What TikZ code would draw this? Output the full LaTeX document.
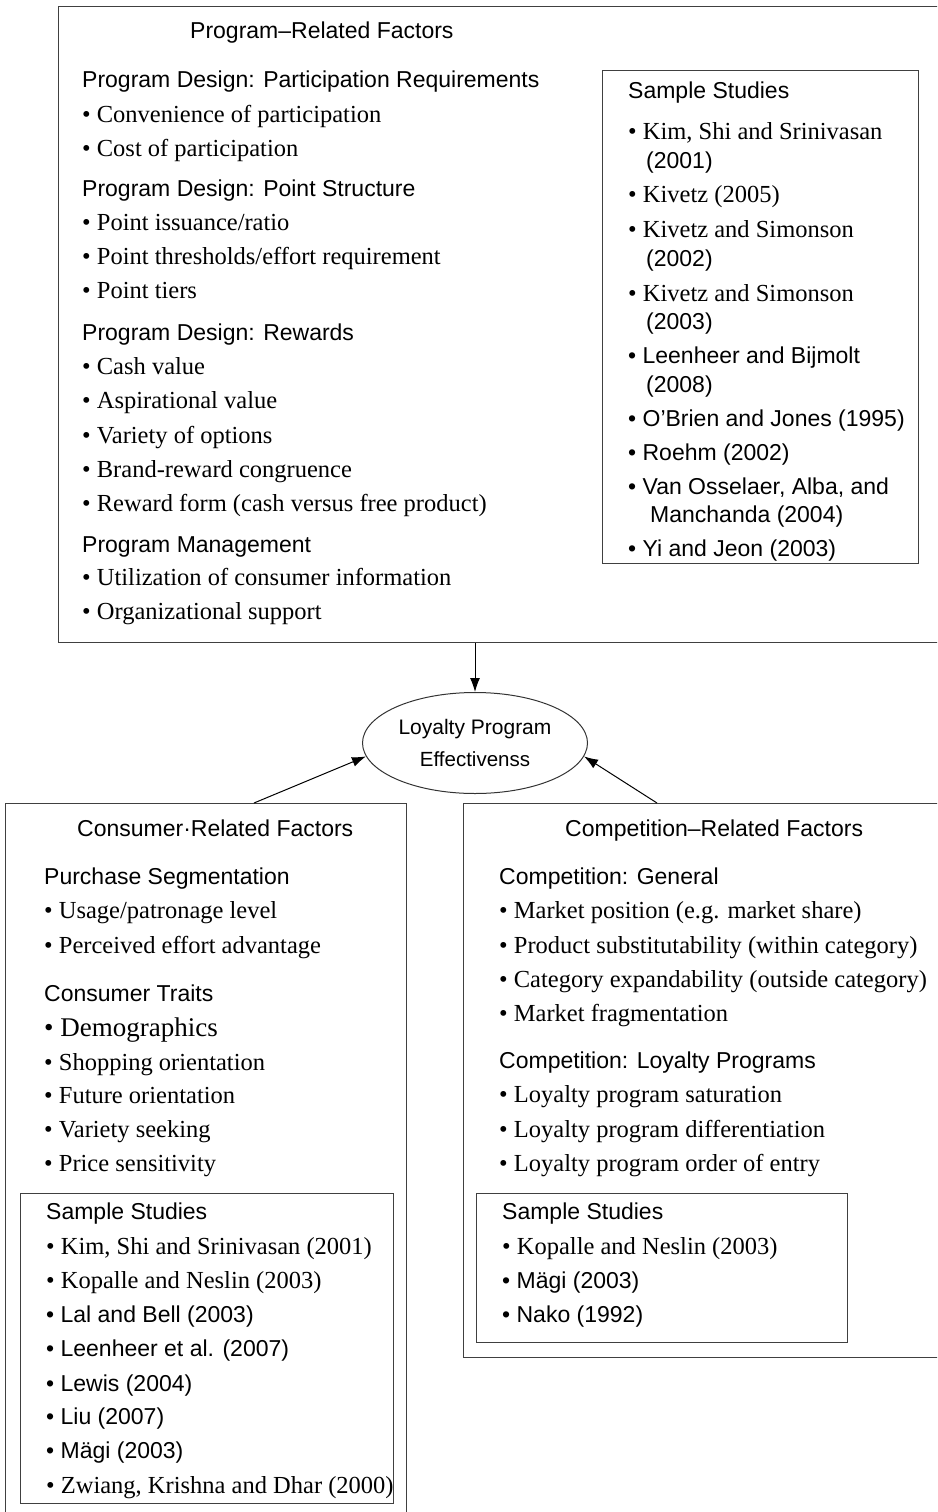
\documentclass[tikz,border=0pt]{standalone}
\usepackage{fontspec}
\setmainfont{Liberation Serif}
\newfontfamily\hdfont{Liberation Sans}
\usetikzlibrary{shapes.geometric,arrows.meta}

\begin{document}
\begin{tikzpicture}
  [x=1pt,y=-1pt,>={Latex[length=14pt,width=10pt]},
   hd/.style={anchor=west,inner sep=0pt,text height=17pt,text depth=5pt,
     font=\hdfont\fontsize{23}{27}\selectfont},
   sr/.style={anchor=west,inner sep=0pt,text height=17pt,text depth=5pt,
     font=\fontsize{24.5}{29}\selectfont},
   srbig/.style={anchor=west,inner sep=0pt,text height=18pt,text depth=6pt,
     font=\fontsize{27}{31}\selectfont},
   box/.style={draw=black!75,line width=1.1pt,anchor=north west,inner sep=0pt},
   ell/.style={draw=black!80,line width=1pt,ellipse,inner sep=0pt,
     minimum width=225pt,minimum height=101pt,align=center,
     font=\hdfont\fontsize{21}{32}\selectfont}]
  \useasboundingbox (0,0) rectangle (937,1512);
  \clip (0,0) rectangle (937,1512);

  \node[box,minimum width=920pt,minimum height=636pt] (prog) at (58,6) {};
  \node[box,minimum width=316pt,minimum height=493pt] (progss) at (602,70) {};
  \node[box,minimum width=401pt,minimum height=760pt] (cons) at (5,803) {};
  \node[box,minimum width=373pt,minimum height=310pt] (consss) at (20,1193) {};
  \node[box,minimum width=520pt,minimum height=554pt] (comp) at (463,803) {};
  \node[box,minimum width=371pt,minimum height=149pt] (compss) at (476,1193) {};

  \node[hd] (progtitle) at (190,33) {Program–Related Factors};
  \foreach \y/\s/\t in {82/hd/{Program Design: Participation Requirements},
      116/sr/{• Convenience of participation},150/sr/{• Cost of participation},
      190/hd/{Program Design: Point Structure},224/sr/{• Point issuance/ratio},
      258/sr/{• Point thresholds/effort requirement},292/sr/{• Point tiers},
      334/hd/{Program Design: Rewards},368/sr/{• Cash value},
      402/sr/{• Aspirational value},437/sr/{• Variety of options},
      471/sr/{• Brand-reward congruence},505/sr/{• Reward form (cash versus free product)},
      546/hd/{Program Management},579/sr/{• Utilization of consumer information},
      613/sr/{• Organizational support}}
    \node[\s] (prog-\y) at (82,\y) {\t};

  \foreach \x/\y/\s/\t in {628/92/hd/{Sample Studies},
      628/133/sr/{• Kim, Shi and Srinivasan},646/162/hd/{(2001)},
      628/196/sr/{• Kivetz (2005)},
      628/231/sr/{• Kivetz and Simonson},646/260/hd/{(2002)},
      628/295/sr/{• Kivetz and Simonson},646/323/hd/{(2003)},
      628/357/hd/{• Leenheer and Bijmolt},646/386/hd/{(2008)},
      628/420/hd/{• O’Brien and Jones (1995)},628/454/hd/{• Roehm (2002)},
      628/488/hd/{• Van Osselaer, Alba, and},650/516/hd/{Manchanda (2004)},
      628/550/hd/{• Yi and Jeon (2003)}}
    \node[\s] (progss-\y) at (\x,\y) {\t};

  \node[hd] (constitle) at (77,830) {Consumer·Related Factors};
  \foreach \x/\y/\s/\t in {44/878/hd/{Purchase Segmentation},
      44/912/sr/{• Usage/patronage level},44/947/sr/{• Perceived effort advantage},
      44/995/hd/{Consumer Traits},44/1030/srbig/{• Demographics},
      44/1064/sr/{• Shopping orientation},44/1097/sr/{• Future orientation},
      44/1131/sr/{• Variety seeking},44/1165/sr/{• Price sensitivity},
      46/1213/hd/{Sample Studies},
      46/1248/sr/{• Kim, Shi and Srinivasan (2001)},
      46/1282/sr/{• Kopalle and Neslin (2003)},
      46/1316/hd/{• Lal and Bell (2003)},46/1350/hd/{• Leenheer et al. (2007)},
      46/1385/hd/{• Lewis (2004)},46/1418/hd/{• Liu (2007)},
      46/1452/hd/{• Mägi (2003)},
      46/1487/sr/{• Zwiang, Krishna and Dhar (2000)}}
    \node[\s] (cons-\y) at (\x,\y) {\t};

  \node[hd] (comptitle) at (565,830) {Competition–Related Factors};
  \foreach \x/\y/\s/\t in {499/878/hd/{Competition: General},
      499/912/sr/{• Market position (e.g. market share)},
      499/947/sr/{• Product substitutability (within category)},
      499/981/sr/{• Category expandability (outside category)},
      499/1015/sr/{• Market fragmentation},
      499/1062/hd/{Competition: Loyalty Programs},
      499/1096/sr/{• Loyalty program saturation},
      499/1131/sr/{• Loyalty program differentiation},
      499/1165/sr/{• Loyalty program order of entry},
      502/1213/hd/{Sample Studies},
      502/1248/sr/{• Kopalle and Neslin (2003)},
      502/1282/hd/{• Mägi (2003)},502/1316/hd/{• Nako (1992)}}
    \node[\s] (comp-\y) at (\x,\y) {\t};

  \node[ell] (eff) at (475,743)
    {Loyalty Program\\{\fontsize{20.5}{24}\selectfont Effectivenss}};

  \coordinate (constop) at (254,803);
  \coordinate (comptop) at (657,803);
  \draw[->,line width=1pt] (prog.south -| eff.north) -- (eff.north);
  \draw[->,line width=1pt] (constop) -- (eff.187);
  \draw[->,line width=1pt] (comptop) -- (eff.353);

\end{tikzpicture}
\end{document}
